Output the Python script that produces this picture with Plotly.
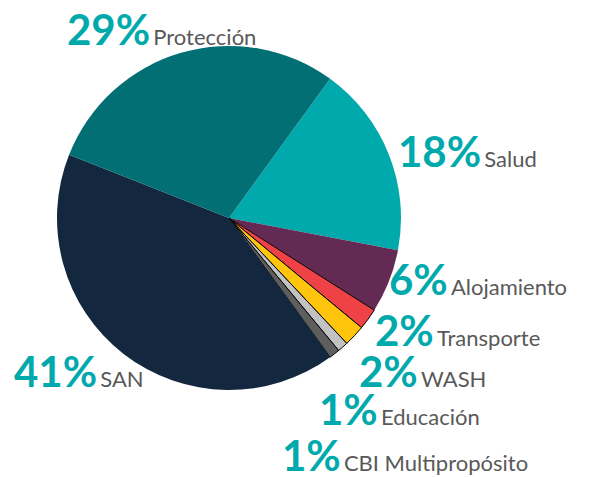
import plotly.graph_objects as go

# Data
labels = ["Salud", "Alojamiento", "Transporte", "WASH", "Educación",
          "CBI Multipropósito", "SAN", "Protección"]
values = [18, 6, 2, 2, 1, 1, 41, 29]
colors = ["#00A9AC", "#632A53", "#EE4246", "#FFC40C", "#C2C2C2",
          "#5E5E5E", "#13283F", "#016F74"]
line_widths = [0, 0, 1, 1, 1, 1, 0, 0]

# Label placements (pixels: left x, center y)
label_pos = {
    "Salud": (388, 143),
    "Alojamiento": (379, 271),
    "Transporte": (365, 322),
    "WASH": (349, 363),
    "Educación": (309, 401),
    "CBI Multipropósito": (272, 447),
    "SAN": (4, 363),
    "Protección": (57, 21),
}

W, H = 591, 477
cx, cy, r = 221, 210, 172

fig = go.Figure(go.Pie(
    labels=labels,
    values=values,
    sort=False,
    direction="clockwise",
    rotation=36,
    textinfo="none",
    hoverinfo="label+percent",
    marker=dict(colors=colors, line=dict(color="#000000", width=line_widths)),
    domain=dict(x=[(cx - r) / W, (cx + r) / W], y=[1 - (cy + r) / H, 1 - (cy - r) / H]),
    showlegend=False,
))

total = sum(values)
for lab, val in zip(labels, values):
    px, py = label_pos[lab]
    pct = round(100 * val / total)
    fig.add_annotation(
        x=px / W, y=1 - py / H, xref="paper", yref="paper",
        xanchor="left", yanchor="middle", showarrow=False, align="left",
        height=40, valign="middle",
        text=(f"<b><span style='font-family:Lato;font-size:42px;color:#00A9AC'>{pct}%</span></b>"
              f" <span style='font-family:Lato;font-size:22px;color:#595959'>{lab}</span>"),
    )

fig.update_layout(
    width=W, height=H,
    margin=dict(l=0, r=0, t=0, b=0),
    paper_bgcolor="white",
    plot_bgcolor="white",
)

fig.write_html("out.html")
